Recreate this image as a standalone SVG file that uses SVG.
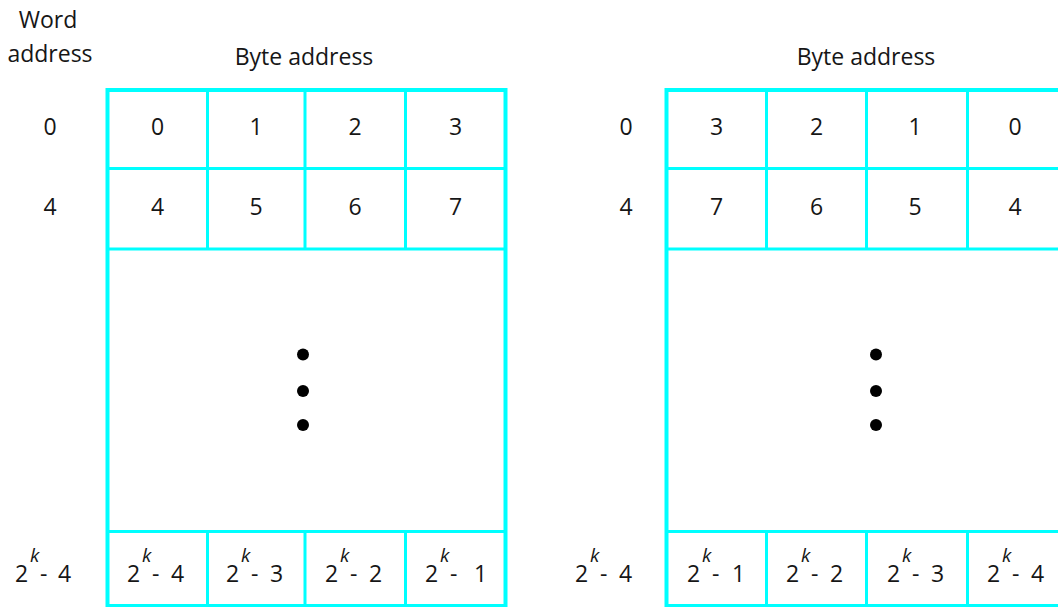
<svg xmlns="http://www.w3.org/2000/svg" width="1058" height="607" viewBox="0 0 1058 607">
<style>
  text { font-family: "Open Sans", "Liberation Sans", sans-serif; font-size: 23px; fill: #161616; }
  .c { text-anchor: middle; }
  .k { font-size: 19px; font-style: italic; }
  .outer { fill: #fff; stroke: #00ffff; stroke-width: 4; }
  .grid { stroke: #00ffff; stroke-width: 3; fill: none; }
  .dot { fill: #000; }
</style>
<rect width="1058" height="607" fill="#fff"/>

<g id="word-address-label">
  <text class="c" x="48" y="28">Word</text>
  <text class="c" x="50" y="62">address</text>
</g>

<g id="row-labels-left">
  <text class="c" x="50" y="135">0</text>
  <text class="c" x="50" y="215">4</text>
  <text x="15" y="582">2</text><text class="k" x="30" y="562">k</text><text x="40" y="582">-</text><text x="58" y="582">4</text>
</g>

<g id="table-left">
  <text class="c" x="304" y="65">Byte address</text>
  <rect class="outer" x="107.5" y="90" width="398" height="516"/>
  <path class="grid" d="M107.5 168.5H505.5M107.5 249H505.5M107.5 531.5H505.5M207.5 90V249M305 90V249M405.5 90V249M207.5 531.5V606M305 531.5V606M405.5 531.5V606"/>
  <text class="c" x="157.5" y="135">0</text>
  <text class="c" x="256" y="135">1</text>
  <text class="c" x="355" y="135">2</text>
  <text class="c" x="455.5" y="135">3</text>
  <text class="c" x="157.5" y="215">4</text>
  <text class="c" x="256" y="215">5</text>
  <text class="c" x="355" y="215">6</text>
  <text class="c" x="455.5" y="215">7</text>
  <circle class="dot" cx="303" cy="354.5" r="6"/>
  <circle class="dot" cx="303" cy="391" r="6"/>
  <circle class="dot" cx="303" cy="425" r="6"/>
  <g id="left-bottom-row">
    <text x="127" y="582">2</text><text class="k" x="142" y="562">k</text><text x="152" y="582">-</text><text x="171" y="582">4</text>
    <text x="226" y="582">2</text><text class="k" x="241" y="562">k</text><text x="251" y="582">-</text><text x="270" y="582">3</text>
    <text x="325" y="582">2</text><text class="k" x="340" y="562">k</text><text x="350" y="582">-</text><text x="369" y="582">2</text>
    <text x="425" y="582">2</text><text class="k" x="440" y="562">k</text><text x="450" y="582">-</text><text x="474" y="582">1</text>
  </g>
</g>

<g id="row-labels-right">
  <text class="c" x="626" y="135">0</text>
  <text class="c" x="626" y="215">4</text>
  <text x="575" y="582">2</text><text class="k" x="590" y="562">k</text><text x="600" y="582">-</text><text x="619" y="582">4</text>
</g>

<g id="table-right">
  <text class="c" x="866" y="65">Byte address</text>
  <rect class="outer" x="666.5" y="90" width="402" height="516"/>
  <path class="grid" d="M666.5 168.5H1070M666.5 249H1070M666.5 531.5H1070M766.5 90V249M866.5 90V249M967.5 90V249M766.5 531.5V606M866.5 531.5V606M967.5 531.5V606"/>
  <text class="c" x="716.5" y="135">3</text>
  <text class="c" x="816.5" y="135">2</text>
  <text class="c" x="915" y="135">1</text>
  <text class="c" x="1015" y="135">0</text>
  <text class="c" x="716.5" y="215">7</text>
  <text class="c" x="816.5" y="215">6</text>
  <text class="c" x="915" y="215">5</text>
  <text class="c" x="1015" y="215">4</text>
  <circle class="dot" cx="876" cy="354.5" r="6"/>
  <circle class="dot" cx="876" cy="391" r="6"/>
  <circle class="dot" cx="876" cy="425" r="6"/>
  <g id="right-bottom-row">
    <text x="687" y="582">2</text><text class="k" x="702" y="562">k</text><text x="712" y="582">-</text><text x="732" y="582">1</text>
    <text x="786" y="582">2</text><text class="k" x="801" y="562">k</text><text x="811" y="582">-</text><text x="830" y="582">2</text>
    <text x="887" y="582">2</text><text class="k" x="902" y="562">k</text><text x="912" y="582">-</text><text x="931" y="582">3</text>
    <text x="987" y="582">2</text><text class="k" x="1002" y="562">k</text><text x="1012" y="582">-</text><text x="1031" y="582">4</text>
  </g>
</g>
</svg>
